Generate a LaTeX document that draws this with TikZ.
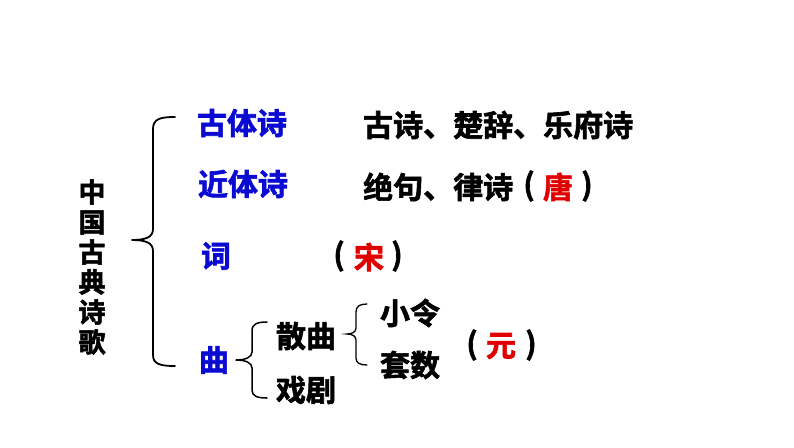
\documentclass[tikz,border=0pt]{standalone}
\usepackage{fontspec}
\newfontfamily\cjk{Noto Sans CJK SC}[UprightFont={* Bold},UprightFeatures={FakeBold=2}]
\definecolor{tblue}{RGB}{10,10,210}
\definecolor{tred}{RGB}{225,0,0}
\begin{document}
\begin{tikzpicture}[x=1pt,y=-1pt,
  lbl/.style={inner sep=0pt,font=\cjk\fontsize{30}{32}\selectfont},
  cat/.style={lbl,text=tblue},
  sub/.style={lbl,text=black},
  dyn/.style={lbl,text=tred},
  brace/.style={draw=black,line width=1.8pt,line cap=round,line join=round},
  sbrace/.style={draw=black,line width=1.3pt,line cap=round}]
\useasboundingbox (0,0) rectangle (794,447);
\fill[white] (0,0) rectangle (794,447);
% vertical title
\node[inner sep=0pt,align=center,font=\cjk\fontsize{27}{30}\selectfont] (title) at (92,267) {中\\国\\古\\典\\诗\\歌};
% big brace
\coordinate (bt) at (175,117);
\coordinate (bb) at (175,366);
\coordinate (btip) at (132,240);
\draw[brace] (bt) .. controls (160,117) and (153,119) .. (153,129) -- (153,229)
  .. controls (153,237) and (146,240) .. (btip)
  .. controls (146,240) and (153,243) .. (153,251) -- (153,355)
  .. controls (153,364) and (160,366) .. (bb);
% categories
\node[cat] (gu) at (242,123) {古体诗};
\node[cat] (jin) at (243,184) {近体诗};
\node[cat] (ci) at (216,256) {词};
\node[cat] (qu) at (214,360) {曲};
% right column
\node[sub,anchor=west] (gus) at (363,125) {古诗、楚辞、乐府诗};
\node[sub,anchor=west] (jins) at (363,187) {绝句、律诗};
\node[sub] (tangl) at (529,186) {(};
\node[dyn] (tang) at (558,187) {唐};
\node[sub] (tangr) at (587,186) {)};
\node[sub] (songl) at (339,256) {(};
\node[dyn] (song) at (369,257) {宋};
\node[sub] (songr) at (397,256) {)};
% qu brace
\coordinate (qt) at (267,322);
\coordinate (qb) at (267,398);
\coordinate (qtip) at (236,360);
\draw[brace,line width=1.5pt] (qt) .. controls (257,322) and (252,324) .. (252,331) -- (252,352)
  .. controls (252,357) and (246,360) .. (qtip)
  .. controls (246,360) and (252,363) .. (252,368) -- (252,390)
  .. controls (252,396) and (257,398) .. (qb);
\node[sub] (sanqu) at (306,336) {散曲};
\node[sub] (xiju) at (306,390) {戏剧};
% sanqu brace
\coordinate (st) at (367,304);
\coordinate (sb) at (367,365);
\coordinate (stip) at (347,334);
\draw[sbrace] (st) .. controls (360,304) and (356,306) .. (356,312) -- (356,328)
  .. controls (356,332) and (352,334) .. (stip)
  .. controls (352,334) and (356,336) .. (356,340) -- (356,358)
  .. controls (356,363) and (360,365) .. (sb);
\node[sub] (xl) at (410,313) {小令};
\node[sub] (ts) at (410,365) {套数};
\node[sub] (yuanl) at (472,345) {(};
\node[dyn] (yuan) at (501,346) {元};
\node[sub] (yuanr) at (531,345) {)};
\end{tikzpicture}
\end{document}
